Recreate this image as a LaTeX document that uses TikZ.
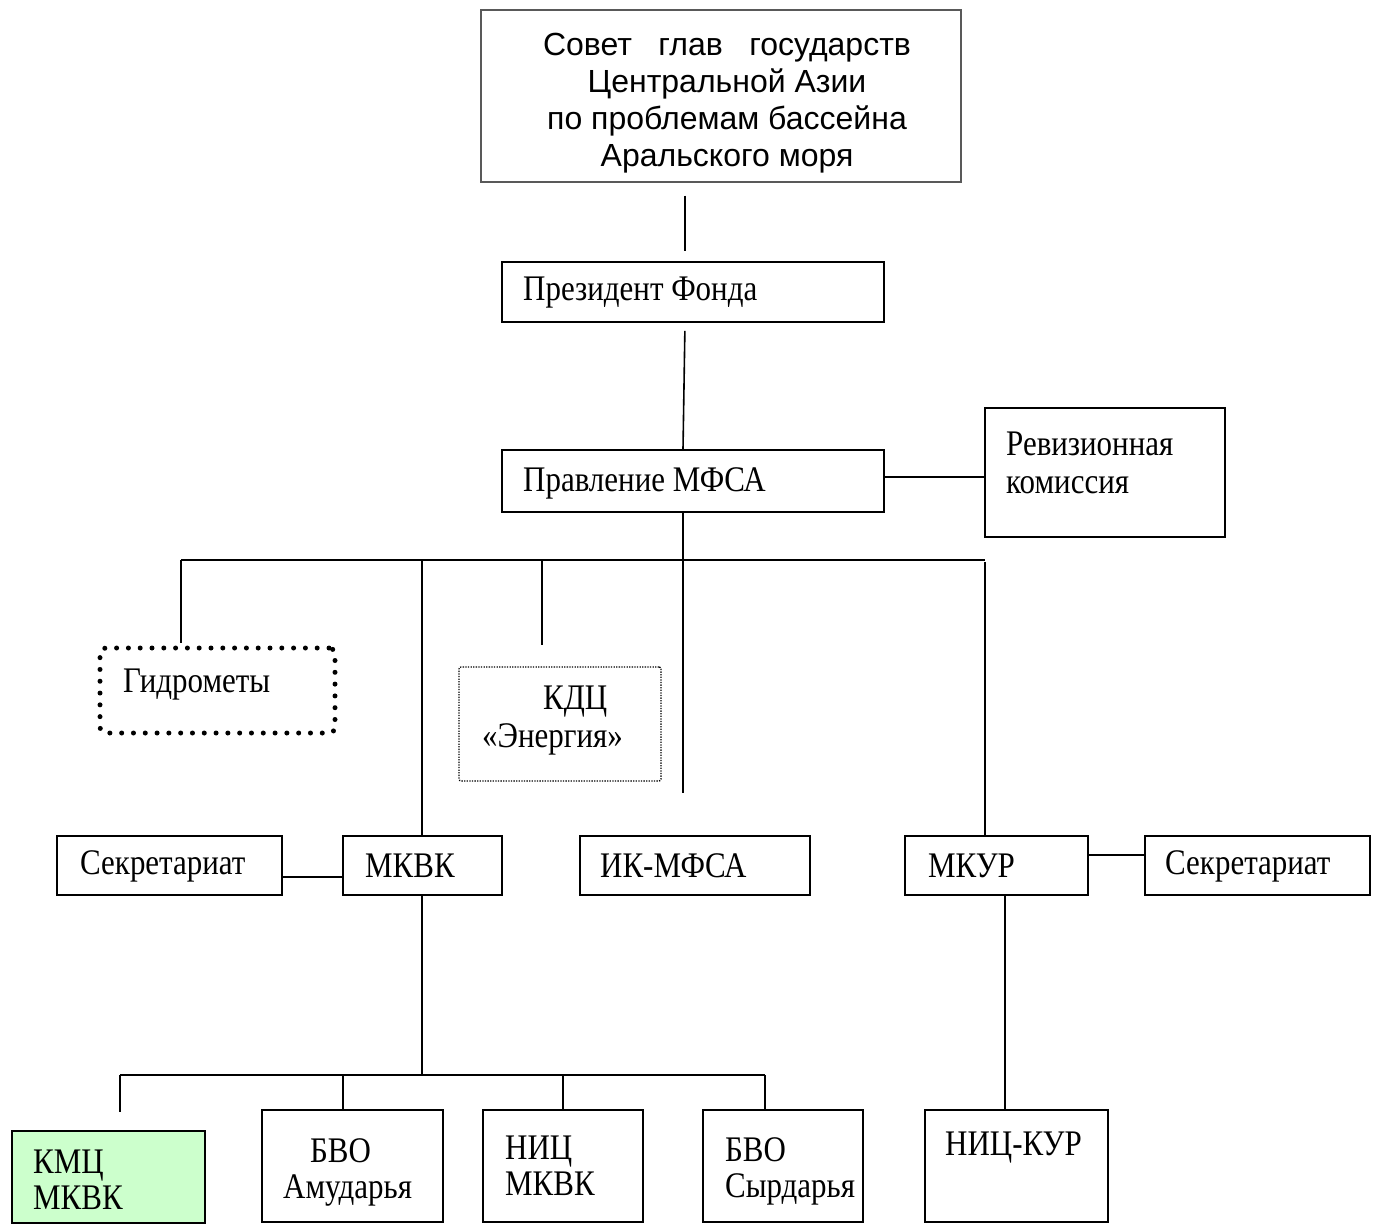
\documentclass[tikz,border=0pt]{standalone}
\usepackage{fontspec}
\setmainfont{Liberation Serif}[FakeStretch=0.86]
\newfontfamily\arialf{Liberation Sans}
\begin{document}
\begin{tikzpicture}[x=1pt,y=-1pt,
  box/.style={draw, line width=1.6pt, rectangle, inner sep=0pt},
  lbl/.style={font=\fontsize{36}{36}\selectfont, inner sep=0pt, anchor=west, align=left},
  con/.style={line width=1.6pt}]
\useasboundingbox (0,0) rectangle (1393,1232);
% boxes
\node[draw=black!65, line width=1.2pt, rectangle, inner sep=0pt, minimum width=480pt, minimum height=172pt] (top) at (721,96) {};
\node[box, minimum width=382pt, minimum height=60pt] (pres) at (693,292) {};
\node[box, minimum width=382pt, minimum height=62pt] (prav) at (693,481) {};
\node[box, minimum width=240pt, minimum height=129pt] (rev) at (1105,472.5) {};
\node[rectangle, inner sep=0pt, minimum width=235pt, minimum height=85pt, draw, line width=5pt, line cap=round, dash pattern=on 0pt off 11.8pt, rounded corners=6pt] (gidro) at (217.5,690.5) {};
\node[rectangle, inner sep=0pt, minimum width=202pt, minimum height=114pt, draw, line width=1.3pt, dash pattern=on 1.3pt off 1.3pt, rounded corners=2pt] (kdc) at (560,724) {};
\node[box, minimum width=225pt, minimum height=59pt] (sec1) at (169.5,865.5) {};
\node[box, minimum width=159pt, minimum height=59pt] (mkvk) at (422.5,865.5) {};
\node[box, minimum width=230pt, minimum height=59pt] (ik) at (695,865.5) {};
\node[box, minimum width=183pt, minimum height=59pt] (mkur) at (996.5,865.5) {};
\node[box, minimum width=225pt, minimum height=59pt] (sec2) at (1257.5,865.5) {};
\definecolor{kmcgreen}{HTML}{CCFFCC}
\node[box, fill=kmcgreen, minimum width=193pt, minimum height=92pt] (kmc) at (108.5,1177) {};
\node[box, minimum width=181pt, minimum height=112pt] (bvoa) at (352.5,1166) {};
\node[box, minimum width=160pt, minimum height=112pt] (nic) at (563,1166) {};
\node[box, minimum width=160pt, minimum height=112pt] (bvos) at (783,1166) {};
\node[box, minimum width=183pt, minimum height=112pt] (nickur) at (1016.5,1166) {};
% texts
\node[font=\arialf\fontsize{32}{37}\selectfont, align=center, inner sep=0pt] (topT) at (727,103)
  {\makebox[368pt][s]{Совет глав государств}\\Центральной Азии\\по проблемам бассейна\\Аральского моря};
\node[lbl] (presT) at (523,293) {Президент Фонда};
\node[lbl] (pravT) at (523,483) {Правление МФСА};
\node[lbl, font=\fontsize{36}{38}\selectfont] (revT) at (1006,463) {Ревизионная\\комиссия};
\node[lbl] (gidroT) at (123,685) {Гидрометы};
\node[lbl, font=\fontsize{36}{38}\selectfont] (kdcT) at (482,721) {\hspace*{61pt}КДЦ\\«Энергия»};
\node[lbl] (sec1T) at (80,866) {Секретариат};
\node[lbl] (mkvkT) at (365,866) {МКВК};
\node[lbl] (ikT) at (600,866) {ИК-МФСА};
\node[lbl] (mkurT) at (928,866) {МКУР};
\node[lbl] (sec2T) at (1165,866) {Секретариат};
\node[lbl] (kmcT) at (33,1180) {КМЦ\\МКВК};
\node[lbl] (bvoaT) at (283,1172) {\hspace*{27pt}БВО\\Амударья};
\node[lbl] (nicT) at (505,1166) {НИЦ\\МКВК};
\node[lbl] (bvosT) at (725,1171) {БВО\\Сырдарья};
\node[lbl] (nickurT) at (945,1148) {НИЦ-КУР};
% connectors
\coordinate (xA) at (685,0);
\coordinate (xB) at (683,0);
\draw[con, shorten <=13pt, shorten >=10pt] (top.south -| xA) -- (pres.north -| xA);
\draw[con, shorten <=8pt] (pres.south -| xA) -- (prav.north -| xB);
\coordinate (yR) at (0,477);
\draw[con] (prav.east |- yR) -- (rev.west |- yR);
\coordinate (bL) at (181,560);
\coordinate (bR) at (985,560);
\draw[con] (bL) -- (bR);
\coordinate (ikEnd) at (683,793);
\draw[con] (prav.south -| xB) -- (ikEnd);
\draw[con, shorten >=3pt] (bL) -- (gidro.north -| bL);
\coordinate (b2) at (422,560);
\draw[con] (b2) -- (mkvk.north -| b2);
\coordinate (b3) at (542,560);
\coordinate (b3e) at (542,645);
\draw[con] (b3) -- (b3e);
\draw[con, shorten <=2pt] (bR) -- (mkur.north -| bR);
\coordinate (y877) at (0,877);
\draw[con] (sec1.east |- y877) -- (mkvk.west |- y877);
\coordinate (y855) at (0,855);
\draw[con] (mkur.east |- y855) -- (sec2.west |- y855);
\coordinate (c1) at (120,1075);
\coordinate (c4) at (765,1075);
\coordinate (c1e) at (120,1112);
\coordinate (c2) at (343,1075);
\draw[con] (mkvk.south -| b2) -- (b2 |- c1);
\draw[con] (c1) -- (c4);
\draw[con] (c1) -- (c1e);
\draw[con] (c2) -- (bvoa.north -| c2);
\draw[con] (nic.north |- c1) -- (nic.north);
\draw[con] (c4) -- (bvos.north -| c4);
\coordinate (xK) at (1005,0);
\draw[con] (mkur.south -| xK) -- (nickur.north -| xK);
\end{tikzpicture}
\end{document}
